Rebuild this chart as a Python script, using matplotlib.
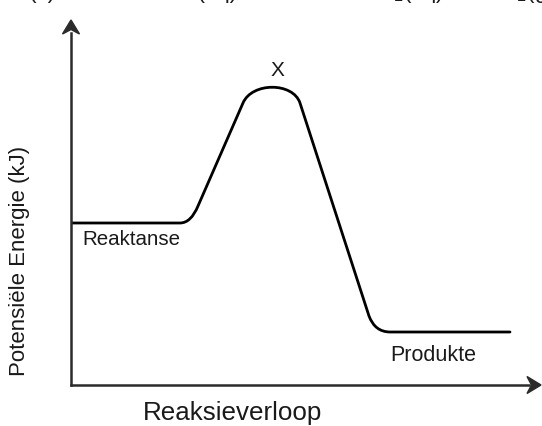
import numpy as np
import matplotlib
matplotlib.use("Agg")
from matplotlib import pyplot as plt
from matplotlib.path import Path
from matplotlib.patches import PathPatch, Polygon
from matplotlib import transforms

# energy profile: reaction progress vs potential energy (path vertices, arbitrary units)
progress = [0, 109, 120, 127, 172, 181, 222, 229, 298, 304, 319, 439]
energy = [162, 162, 162, 179, 282, 303, 303, 282, 69, 53, 53, 53]
codes = [Path.MOVETO, Path.LINETO, Path.CURVE3, Path.CURVE3, Path.LINETO,
         Path.CURVE4, Path.CURVE4, Path.CURVE4, Path.LINETO,
         Path.CURVE3, Path.CURVE3, Path.LINETO]

peak_label = "X"
reactant_label = "Reaktanse"
product_label = "Produkte"
x_label = "Reaksieverloop"
y_label = "Potensiële Energie (kJ)"
equation_parts = ["Zn(s)", "2HCl(aq)", "ZnCl$_2$(aq)", "H$_2$(g)"]

W, H = 542, 426
plt.rcParams['font.family'] = ['Liberation Sans', 'DejaVu Sans']
fig = plt.figure(figsize=(W / 100, H / 100), dpi=100)
ax = fig.add_axes([71 / W, 41 / H, 470 / W, 365 / H])
ax.set_xlim(0, 470)
ax.set_ylim(0, 365)
ax.axis("off")

curve = Path(np.column_stack([progress, energy]), codes)
ax.add_patch(PathPatch(curve, facecolor="none", edgecolor="black", lw=2.0, capstyle="round"))

# axes with stealth arrow heads
axis_col = "#2b2b2b"
ax.plot([0, 0], [0, 0.965], transform=ax.transAxes, color=axis_col, lw=1.8, clip_on=False)
ax.plot([0, 0.975], [0, 0], transform=ax.transAxes, color=axis_col, lw=1.8, clip_on=False)
up = fig.dpi_scale_trans + transforms.ScaledTranslation(0, 1, ax.transAxes)
right = fig.dpi_scale_trans + transforms.ScaledTranslation(1, 0, ax.transAxes)
ax.add_patch(Polygon([(0, 0), (-0.085, -0.14), (0, -0.095), (0.085, -0.14)],
                     closed=True, transform=up, color=axis_col, clip_on=False))
ax.add_patch(Polygon([(0, 0), (-0.14, 0.085), (-0.095, 0), (-0.14, -0.085)],
                     closed=True, transform=right, color=axis_col, clip_on=False))

txt = "#1a1a1a"


def px(x, y):
    return x / W, 1 - y / H


fig.text(*px(277, 71), peak_label, fontsize=15, ha="center", va="center", color=txt)
fig.text(*px(82, 245), reactant_label, fontsize=14.8, ha="left", va="baseline", color=txt)
fig.text(*px(390, 361), product_label, fontsize=15.5, ha="left", va="baseline", color=txt)
fig.text(*px(143, 420), x_label, fontsize=18.7, ha="left", va="baseline", color=txt)
fig.text(*px(20, 261), y_label, fontsize=16, ha="center", va="center", rotation=90, color=txt)

# chemical equation cut off at the top edge of the scan
for part, x, ha in zip(equation_parts, [55, 238, 444, 500], ["right", "right", "right", "left"]):
    fig.text(*px(x, -1.5), part, fontsize=16, ha=ha, va="baseline", color=txt)

fig.savefig("out.png", dpi=100)
